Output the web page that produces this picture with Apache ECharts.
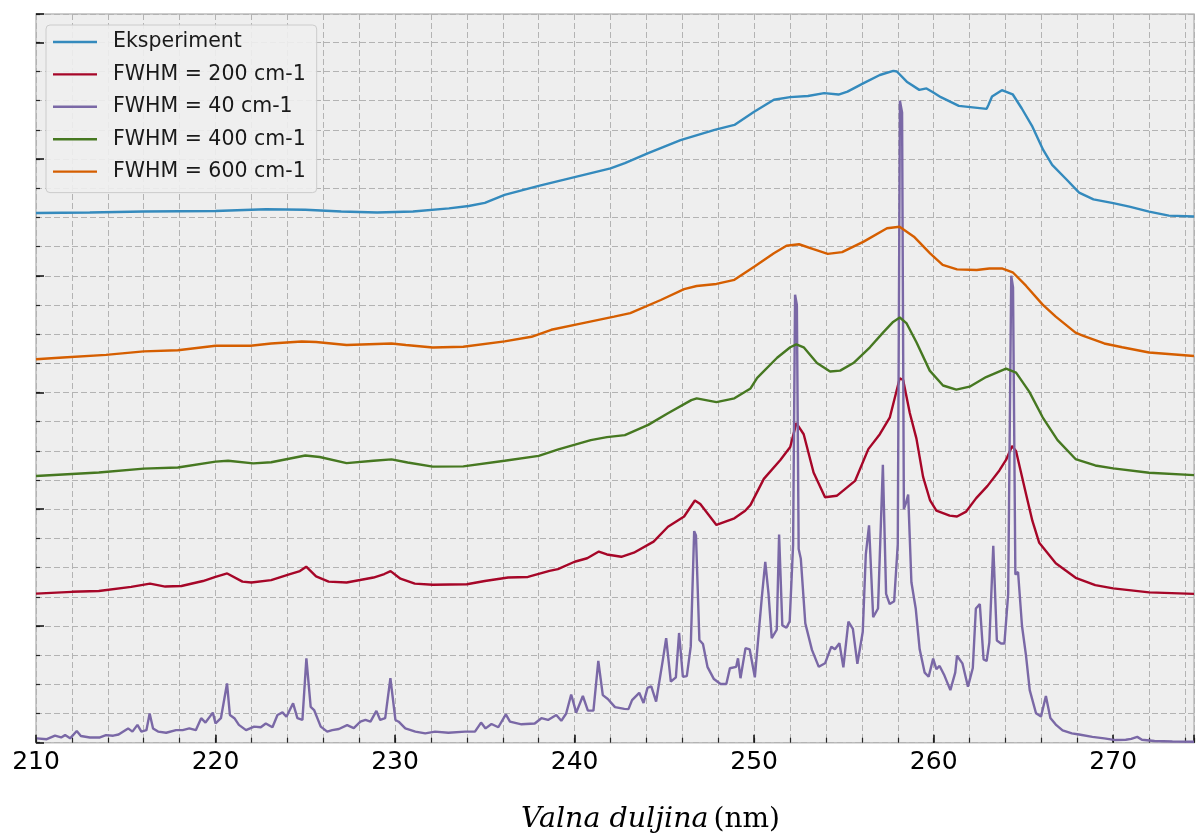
<!DOCTYPE html>
<html>
<head>
<meta charset="utf-8">
<script src="https://cdn.jsdelivr.net/npm/echarts@6/dist/echarts.min.js"></script>
<style>
  html, body { margin: 0; padding: 0; background: #fff; }
  #chart { width: 1197px; height: 837px; }
</style>
</head>
<body>
<div id="chart"></div>
<script>
// valna duljina (nm) -> intenzitet (proizvoljne jedinice, 1 = jedna mala podjela)
const seriesNames = ['Eksperiment', 'FWHM = 200 cm-1', 'FWHM = 40 cm-1', 'FWHM = 400 cm-1', 'FWHM = 600 cm-1'];
const xTickLabels = [210, 220, 230, 240, 250, 260, 270];

const eksperiment = [
  [210,18.15],[213,18.17],[216,18.2],[220,18.22],[222.8,18.28],[225,18.26],[227,18.2],[229,18.17],
  [231,18.2],[233,18.31],[234.1,18.39],[235,18.5],[236.1,18.77],[238,19.08],[240,19.38],[242,19.68],
  [242.8,19.86],[244.1,20.2],[245.9,20.65],[247.8,21.0],[248.9,21.17],[250,21.62],[251.1,22.03],
  [252,22.12],[253,22.16],[253.9,22.26],[254.7,22.21],[255.2,22.31],[256.1,22.6],[257,22.88],
  [257.75,23.02],[257.95,23.0],[258.5,22.65],[259.2,22.37],[259.6,22.42],[259.96,22.29],[260.4,22.12],
  [261.4,21.82],[262.95,21.72],[263.05,21.85],[263.25,22.14],[263.8,22.36],[264.4,22.22],[264.9,21.74],
  [265.5,21.11],[266.1,20.31],[266.6,19.8],[267.4,19.3],[268.1,18.85],[268.9,18.62],[270,18.49],
  [270.9,18.37],[272,18.2],[273.1,18.06],[274.5,18.03]
];

const fwhm200 = [
  [210,5.11],[212,5.17],[213.5,5.2],[215.3,5.34],[216.35,5.45],[217.2,5.35],[218.1,5.37],[219.3,5.54],
  [220,5.68],[220.65,5.8],[221.5,5.52],[222,5.49],[223.1,5.57],[224.1,5.77],[224.7,5.88],[225.05,6.03],
  [225.6,5.7],[226.3,5.52],[227.3,5.49],[228.8,5.66],[229.4,5.78],[229.75,5.88],[230.3,5.62],[231.1,5.45],
  [232.1,5.41],[234,5.43],[235,5.54],[236.3,5.66],[237.4,5.68],[238.6,5.89],[239.07,5.95],[240,6.2],
  [240.7,6.32],[241.35,6.55],[241.8,6.45],[242.6,6.37],[243.3,6.51],[244.4,6.89],[245.2,7.4],[246.1,7.75],
  [246.7,8.3],[247,8.18],[247.9,7.46],[248.9,7.69],[249.5,7.95],[249.8,8.15],[250.54,9.04],[251.46,9.69],
  [252.01,10.13],[252.35,10.95],[252.76,10.57],[253.31,9.26],[253.95,8.41],[254.6,8.46],[255.62,8.97],
  [256.36,10.06],[257,10.57],[257.56,11.15],[258.11,12.49],[258.3,12.43],[258.67,11.3],[259.04,10.42],
  [259.41,9.11],[259.8,8.3],[260.15,7.95],[260.89,7.78],[261.3,7.75],[261.81,7.92],[262.37,8.38],
  [263,8.8],[263.66,9.33],[264.03,9.69],[264.37,10.17],[264.59,9.99],[265.14,8.53],[265.5,7.6],
  [265.88,6.85],[266.8,6.15],[267.91,5.65],[269,5.4],[270,5.29],[272,5.15],[274.5,5.1]
];

const fwhm40 = [
  [210.05,0.15],[210.6,0.12],[211.06,0.24],[211.4,0.18],[211.62,0.26],[211.9,0.15],[212.27,0.4],[212.5,0.23],
  [213,0.18],[213.56,0.18],[213.9,0.26],[214.3,0.24],[214.6,0.28],[215.13,0.49],[215.37,0.38],[215.65,0.61],
  [215.87,0.38],[216.15,0.43],[216.33,1.0],[216.52,0.49],[216.8,0.38],[217.25,0.34],[217.8,0.43],[218.17,0.43],
  [218.54,0.49],[218.9,0.43],[219.2,0.84],[219.44,0.69],[219.85,1.03],[220,0.66],[220.3,0.84],[220.64,2.03],
  [220.8,0.95],[221.05,0.84],[221.3,0.61],[221.7,0.43],[222.15,0.55],[222.52,0.53],[222.8,0.66],[223.17,0.53],
  [223.45,0.95],[223.73,1.04],[223.95,0.89],[224.32,1.35],[224.56,0.84],[224.84,0.78],[225.06,2.89],[225.3,1.23],
  [225.49,1.12],[225.86,0.55],[226.22,0.38],[226.5,0.43],[226.87,0.47],[227.33,0.6],[227.7,0.5],[228.07,0.72],
  [228.35,0.78],[228.63,0.72],[228.96,1.09],[229.17,0.78],[229.45,0.84],[229.74,2.21],[230.02,0.78],[230.2,0.72],
  [230.57,0.49],[231.13,0.38],[231.68,0.32],[232.23,0.38],[232.97,0.34],[233.9,0.38],[234.45,0.38],[234.79,0.69],
  [235.04,0.49],[235.37,0.64],[235.75,0.53],[236.17,0.97],[236.4,0.72],[237.04,0.63],[237.78,0.66],[238.15,0.84],
  [238.52,0.78],[238.98,0.95],[239.26,0.75],[239.53,1.0],[239.81,1.65],[240.09,1.03],[240.46,1.6],[240.74,1.1],
  [241.05,1.1],[241.32,2.8],[241.57,1.63],[241.85,1.5],[242.25,1.22],[242.77,1.16],[243,1.15],[243.2,1.46],
  [243.6,1.71],[243.84,1.36],[244.06,1.88],[244.27,1.93],[244.54,1.41],[244.9,2.78],[245.1,3.58],[245.36,2.09],
  [245.64,2.24],[245.82,3.76],[246.03,2.26],[246.25,2.28],[246.47,3.3],[246.66,7.25],[246.76,7.1],[246.95,3.52],
  [247.15,3.38],[247.4,2.6],[247.76,2.18],[248.13,2.01],[248.45,2.01],[248.65,2.55],[249,2.6],[249.1,2.89],
  [249.24,2.21],[249.52,3.24],[249.75,3.2],[250.04,2.24],[250.43,5.0],[250.62,6.2],[250.8,5.11],[250.98,3.58],
  [251.26,3.87],[251.39,7.13],[251.57,4.02],[251.8,3.94],[251.98,4.16],[252.17,6.78],[252.28,15.35],
  [252.38,15.0],[252.48,6.64],[252.6,6.3],[252.85,4.09],[253.22,3.18],[253.6,2.6],[253.95,2.72],[254.3,3.29],
  [254.5,3.2],[254.75,3.41],[254.97,2.58],[255.25,4.15],[255.5,3.9],[255.75,2.7],[256.05,3.8],[256.22,6.45],
  [256.4,7.45],[256.63,4.3],[256.9,4.6],[257.17,9.52],[257.35,5.1],[257.55,4.75],[257.8,4.85],[258,6.8],
  [258.12,22.0],[258.24,21.6],[258.34,8.0],[258.45,8.2],[258.58,8.5],[258.76,5.5],[259,4.6],[259.22,3.2],
  [259.5,2.4],[259.72,2.26],[259.97,2.88],[260.15,2.52],[260.33,2.63],[260.6,2.3],[260.93,1.8],[261.2,2.4],
  [261.3,2.98],[261.6,2.72],[261.91,1.92],[262.18,2.56],[262.35,4.6],[262.57,4.75],[262.78,2.85],[262.95,2.8],
  [263.1,3.44],[263.32,6.75],[263.52,3.5],[263.75,3.4],[263.94,3.4],[264.15,5.1],[264.32,16.0],[264.42,15.6],
  [264.55,5.76],[264.7,5.85],[264.92,4.0],[265.14,3.0],[265.35,1.8],[265.7,1.01],[265.98,0.9],[266.25,1.6],
  [266.5,0.85],[266.8,0.62],[267.18,0.42],[267.7,0.32],[268.1,0.28],[268.84,0.2],[269.5,0.15],[270.13,0.09],
  [270.7,0.1],[271,0.13],[271.34,0.2],[271.6,0.1],[272.3,0.06],[273.3,0.04],[274.5,0.03]
];

const fwhm400 = [
  [210,9.14],[213.5,9.26],[216,9.39],[217.9,9.43],[220,9.63],[220.7,9.66],[222.1,9.57],[223.1,9.61],
  [225,9.84],[225.8,9.79],[227.3,9.58],[228.8,9.66],[229.8,9.71],[230.7,9.6],[232.1,9.46],[233.8,9.47],
  [236.1,9.66],[238,9.83],[239.1,10.05],[240.9,10.37],[241.8,10.47],[242.8,10.54],[244.1,10.89],[245.2,11.29],
  [246.5,11.74],[246.8,11.8],[247.9,11.67],[248.9,11.8],[249.8,12.14],[250.17,12.5],[251.28,13.19],[252.01,13.55],
  [252.35,13.65],[252.76,13.55],[253.5,13.01],[254.23,12.72],[254.79,12.75],[255.53,13.01],[256.45,13.55],
  [257.19,14.06],[257.74,14.42],[258.11,14.57],[258.48,14.38],[259.04,13.72],[259.78,12.75],[260.52,12.24],
  [261.26,12.1],[262,12.2],[262.92,12.53],[264.03,12.82],[264.59,12.68],[265.33,12.02],[266.07,11.15],
  [266.9,10.37],[267.9,9.72],[269,9.5],[270,9.4],[272,9.25],[274.5,9.17]
];

const fwhm600 = [
  [210,13.14],[211.5,13.2],[213.9,13.29],[216,13.41],[217.9,13.45],[220,13.6],[221.95,13.6],[223.1,13.68],
  [224.8,13.75],[225.6,13.73],[227.3,13.63],[229.8,13.68],[230.6,13.63],[232.1,13.54],[233.8,13.57],[236.1,13.75],
  [237.6,13.91],[238.7,14.15],[240.4,14.37],[242.2,14.6],[243.1,14.72],[244.8,15.17],[246.1,15.54],[246.8,15.65],
  [247.9,15.72],[248.9,15.86],[250,16.31],[251.1,16.77],[251.8,17.03],[252.5,17.08],[253.3,16.91],[254.1,16.75],
  [254.9,16.81],[256.1,17.17],[257.4,17.63],[258.1,17.68],[258.9,17.34],[259.8,16.77],[260.5,16.37],[261.3,16.22],
  [262.4,16.2],[263.1,16.25],[263.8,16.25],[264.4,16.12],[265.14,15.66],[266.07,15.01],[266.8,14.6],[267.9,14.05],
  [268.3,13.95],[269.5,13.68],[270.5,13.55],[272,13.37],[274.5,13.25]
];

const seriesData = [eksperiment, fwhm200, fwhm40, fwhm400, fwhm600];
const colors = ['#348ABD', '#A60628', '#7A68A6', '#467821', '#D55E00'];

let chart = echarts.init(document.getElementById('chart'), null, { renderer: 'canvas' });

const gridLine = { color: '#b3b3b3', width: 1, type: [6, 3] };
const tickMinor = { color: '#262626', width: 1.2 };
const tickMajor = { color: '#1a1a1a', width: 1.6 };

let option = {
  animation: false,
  backgroundColor: '#ffffff',
  grid: {
    left: 36, top: 14, width: 1163, height: 728.7,
    show: true,
    backgroundColor: '#eeeeee',
    borderColor: '#bcbcbc',
    borderWidth: 1.5
  },
  legend: {
    orient: 'vertical',
    left: 46, top: 25,
    padding: [6, 11, 10, 7],
    icon: 'rect',
    itemWidth: 44, itemHeight: 2.4,
    itemGap: 10.4,
    backgroundColor: 'rgba(238,238,238,0.9)',
    borderColor: '#cccccc',
    borderWidth: 1,
    borderRadius: 4,
    selectedMode: false,
    data: seriesNames,
    textStyle: {
      fontFamily: 'DejaVu Sans', fontSize: 20.5, color: '#1a1a1a',
      lineHeight: 22, padding: [0, 0, 0, 11]
    }
  },
  xAxis: [
    {
      // mala podjela, svake 2 nm
      type: 'value', min: 210, max: 274.5, interval: 2,
      axisLine: { show: false },
      axisTick: { show: true, inside: true, length: 5, lineStyle: tickMinor },
      axisLabel: { show: false },
      splitLine: { show: true, lineStyle: gridLine }
    },
    {
      type: 'value', min: 210, max: 274.5, interval: 10, position: 'bottom',
      axisLine: { show: false },
      axisTick: { show: true, inside: true, length: 8, lineStyle: tickMajor },
      axisLabel: {
        show: true, margin: 7,
        fontFamily: 'DejaVu Sans', fontSize: 25, color: '#000',
        formatter: function (v) { return xTickLabels.indexOf(v) >= 0 ? String(v) : ''; }
      },
      splitLine: { show: false }
    }
  ],
  yAxis: [
    {
      type: 'value', min: 0, max: 24.97, interval: 1, position: 'left',
      axisLine: { show: false },
      axisTick: { show: true, inside: true, length: 4, lineStyle: tickMinor },
      axisLabel: { show: false },
      splitLine: { show: true, lineStyle: gridLine }
    },
    {
      type: 'value', min: 0, max: 24.97, interval: 4, position: 'left',
      axisLine: { show: false },
      axisTick: { show: true, inside: true, length: 8, lineStyle: tickMajor },
      axisLabel: { show: false },
      splitLine: { show: false }
    }
  ],
  graphic: [{
    type: 'text',
    left: 521, top: 805,
    style: {
      text: '{i|Valna duljina}{s| }{n|(nm)}',
      rich: {
        i: { fontFamily: 'DejaVu Serif', fontStyle: 'italic', fontSize: 28.5, fill: '#000' },
        s: { fontFamily: 'DejaVu Serif', fontSize: 28, width: 5 },
        n: { fontFamily: 'DejaVu Serif', fontSize: 28, fill: '#000' }
      }
    }
  }],
  series: seriesNames.map(function (name, i) {
    return {
      name: name,
      type: 'line',
      xAxisIndex: 0,
      yAxisIndex: 0,
      data: seriesData[i],
      symbol: 'none',
      smooth: false,
      color: colors[i],
      lineStyle: { color: colors[i], width: 2.4 }
    };
  })
};

chart.setOption(option);
window.addEventListener('resize', function () {
  chart.resize();
});
</script>
</body>
</html>
